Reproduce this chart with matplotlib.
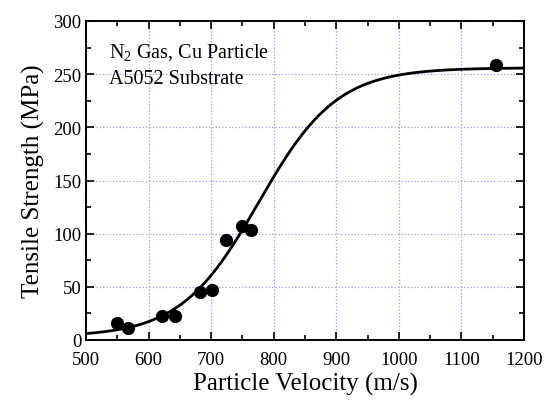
import numpy as np
import matplotlib
matplotlib.use('Agg')
import matplotlib.pyplot as plt
from matplotlib.ticker import MultipleLocator

plt.rcParams['font.family'] = ['Liberation Serif', 'DejaVu Serif']
plt.rcParams['mathtext.fontset'] = 'custom'
plt.rcParams['mathtext.rm'] = 'Liberation Serif'

# measured points
velocity = [550, 567, 621, 642, 682, 702, 723, 750, 763, 1156]
strength = [16, 11, 23, 23, 45, 47, 94, 107, 103, 259]

# Boltzmann fit parameters
A1 = 3.0
A2 = 256.0
x0 = 776.0
dx = 62.5

fig = plt.figure(figsize=(5.44, 4.02), dpi=100)
ax = fig.add_axes([86/544, 1 - 341/402, (524-86)/544, (341-22)/402])

xs = np.linspace(500, 1200, 400)
fit = A2 + (A1 - A2) / (1 + np.exp((xs - x0) / dx))
ax.plot(xs, fit, color='black', lw=2, zorder=3)
ax.plot(velocity, strength, 'o', color='black', ms=8.5, zorder=4)

ax.set_xlim(500, 1200)
ax.set_ylim(0, 300)
ax.xaxis.set_major_locator(MultipleLocator(100))
ax.xaxis.set_minor_locator(MultipleLocator(50))
ax.yaxis.set_major_locator(MultipleLocator(50))
ax.yaxis.set_minor_locator(MultipleLocator(25))
ax.tick_params(which='both', direction='in', top=True, right=True, labelsize=13.5, width=1.2)
ax.tick_params(which='major', length=6)
ax.tick_params(which='minor', length=3.5)
ax.tick_params(axis='x', pad=8)
ax.grid(True, which='major', color='#9999ee', ls=':', lw=0.9)
for s in ax.spines.values():
    s.set_linewidth(1.4)

ax.set_xlabel('Particle Velocity (m/s)', fontsize=18, labelpad=3)
ax.set_ylabel('Tensile Strength (MPa)', fontsize=18, labelpad=6)

ax.text(0.052, 0.89, r'N$_2$ Gas, Cu Particle', transform=ax.transAxes, fontsize=14.5, va='baseline')
ax.text(0.052, 0.805, 'A5052 Substrate', transform=ax.transAxes, fontsize=14.5, va='baseline')

fig.savefig('out.png', dpi=100)
